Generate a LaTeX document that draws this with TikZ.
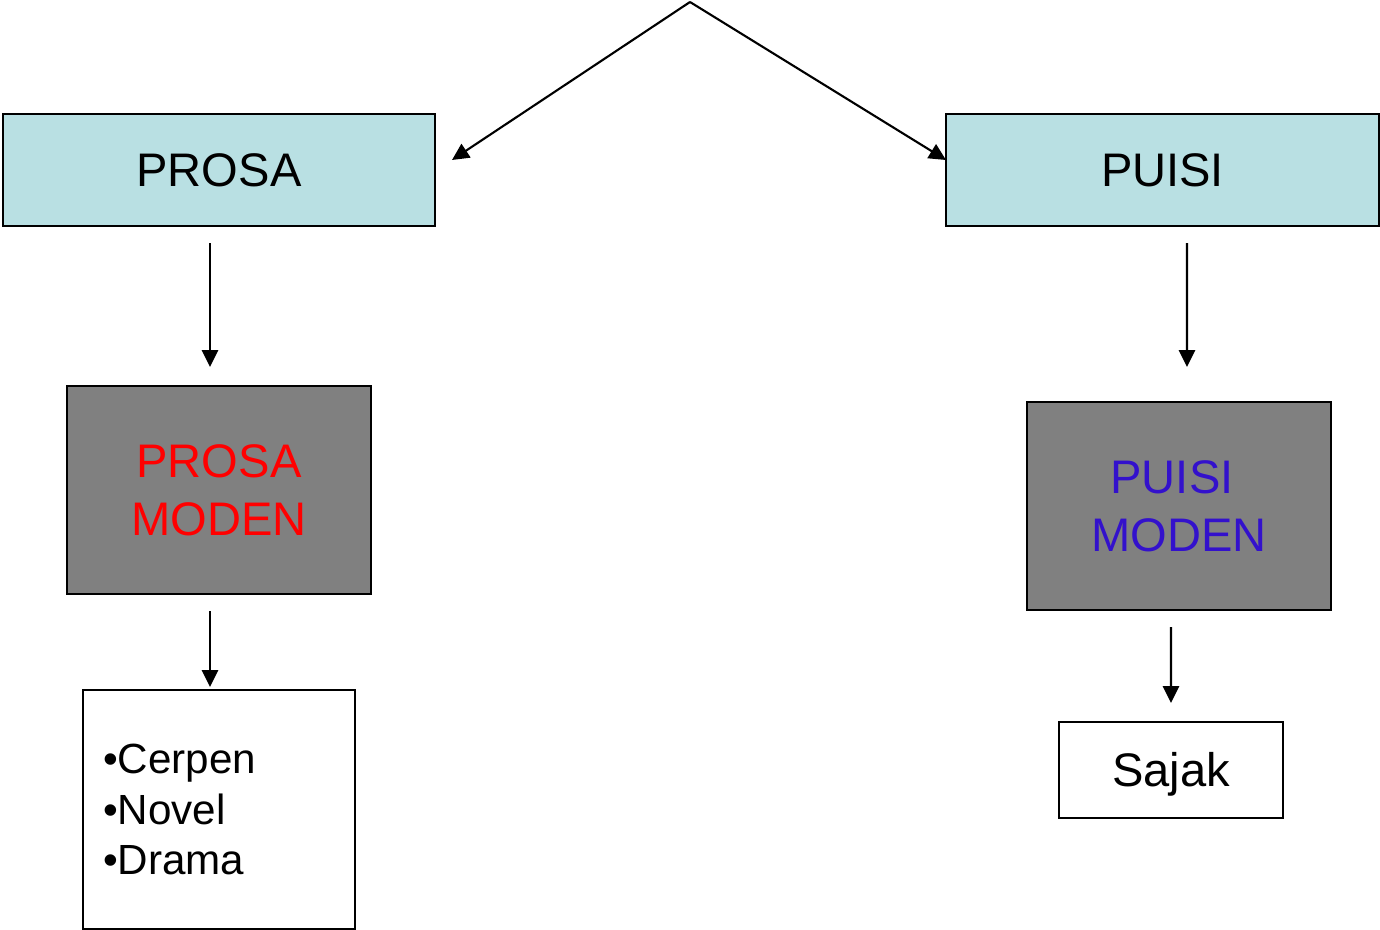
\documentclass[tikz,border=0pt]{standalone}
\usepackage{fontspec}
\setmainfont{Liberation Sans}
\usepackage{xcolor}
\usetikzlibrary{arrows.meta}
\definecolor{kotakbiru}{HTML}{B9E0E3}
\definecolor{kotakkelabu}{HTML}{808080}
\definecolor{tulisbiru}{HTML}{3311CC}
\tikzset{
  utama/.style={draw, line width=0.6pt, fill=kotakbiru, minimum width=4.32cm, minimum height=1.12cm},
  moden/.style={draw, line width=0.6pt, fill=kotakkelabu, minimum width=3.04cm, minimum height=2.08cm, align=center},
  jenis/.style={draw, line width=0.6pt, fill=white},
  panah/.style={line width=0.6pt, -{Triangle[length=4.8pt,width=4.6pt]}}
}
\begin{document}
\begin{tikzpicture}[font=\fontsize{13.4}{16.4}\selectfont]
\useasboundingbox (0,0) rectangle (13.8,-9.3);
% Define the top level boxes
\node[utama] (prosa) at (2.19,-1.70) {PROSA};
\node[utama, minimum width=4.33cm] (puisi) at (11.625,-1.70) {PUISI};
% Define the modern boxes
\node[moden, text=red] (prosamoden) at (2.19,-4.90) {PROSA\\MODEN};
\node[moden, text=tulisbiru] (puisimoden) at (11.79,-5.06) {PUISI\hspace*{0.14cm}\\MODEN};
% Define the kinds
\node[jenis, text width=2.32cm, inner xsep=0.2cm, minimum height=2.39cm, align=left,
      font=\fontsize{12}{14.3}\selectfont] (prosajenis) at (2.19,-8.095) {•Cerpen\\•Novel\\•Drama};
\node[jenis, minimum width=2.24cm, minimum height=0.96cm, text height=0.33cm, text depth=0cm] (sajak) at (11.71,-7.70) {Sajak};
% Add the top arrows
\coordinate (puncak) at (6.90,-0.02);
\coordinate (kiri) at (4.52,-1.60);
\coordinate (kanan) at (9.46,-1.60);
\draw[panah] (puncak) -- (kiri);
\draw[panah] (puncak) -- (kanan);
% Add the arrows down
\draw[panah] ([xshift=-0.09cm, yshift=-0.16cm]prosa.south) -- ([xshift=-0.09cm, yshift=0.18cm]prosamoden.north);
\draw[panah] ([xshift=-0.09cm, yshift=-0.16cm]prosamoden.south) -- ([xshift=-0.09cm, yshift=0.02cm]prosajenis.north);
\draw[panah] ([xshift=0.245cm, yshift=-0.16cm]puisi.south) -- ([xshift=0.08cm, yshift=0.34cm]puisimoden.north);
\draw[panah] ([xshift=-0.08cm, yshift=-0.16cm]puisimoden.south) -- ([yshift=0.18cm]sajak.north);
\end{tikzpicture}
\end{document}
